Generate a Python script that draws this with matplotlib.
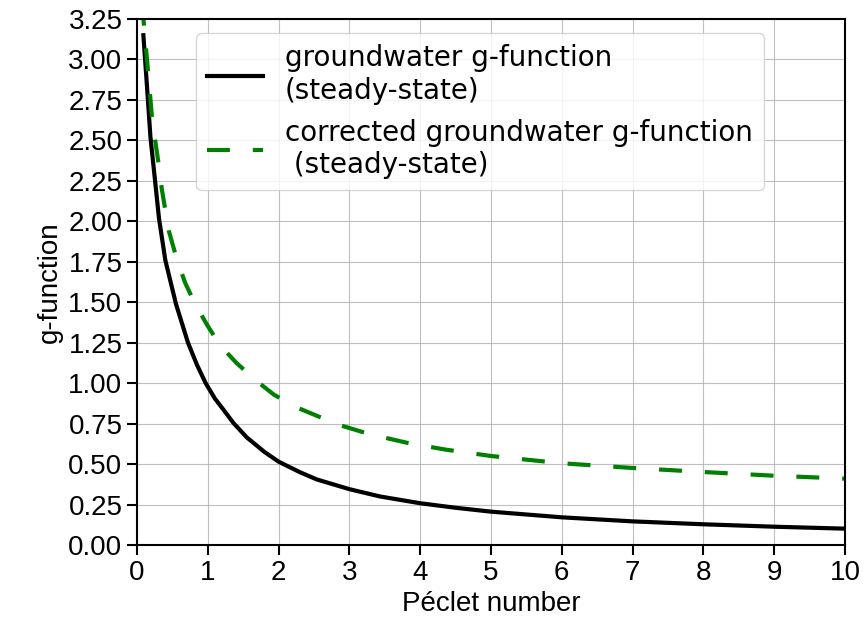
import matplotlib
matplotlib.use("Agg")
import matplotlib.pyplot as plt

# values
pe_steady = [0.09, 0.14, 0.19, 0.26, 0.31, 0.40, 0.55, 0.72, 0.85, 0.97, 1.1,
             1.24, 1.36, 1.55, 1.8, 2.0, 2.3, 2.54, 3.0, 3.43, 4.0, 4.5, 5.0,
             6.0, 7.0, 8.0, 9.0, 10.0]
g_steady = [3.15, 2.84, 2.52, 2.23, 2.02, 1.76, 1.49, 1.25, 1.11, 1.0, 0.905,
            0.825, 0.755, 0.665, 0.575, 0.515, 0.45, 0.405, 0.345, 0.30, 0.258,
            0.23, 0.206, 0.171, 0.146, 0.128, 0.113, 0.101]

pe_corrected = [0.07, 0.095, 0.165, 0.21, 0.26, 0.31, 0.35, 0.45, 0.56, 0.68,
                0.82, 0.99, 1.17, 1.40, 1.67, 1.93, 2.23, 2.53, 2.87, 3.17,
                3.53, 3.83, 4.35, 5.0, 6.0, 7.0, 8.0, 9.0, 10.0]
g_corrected = [3.35, 3.23, 2.88, 2.65, 2.49, 2.34, 2.2, 1.94, 1.77, 1.62,
               1.49, 1.36, 1.235, 1.127, 1.02, 0.93, 0.855, 0.80, 0.74, 0.70,
               0.66, 0.63, 0.59, 0.55, 0.505, 0.476, 0.451, 0.428, 0.41]

x_ticks = list(range(0, 11))
y_ticks = [0.0, 0.25, 0.5, 0.75, 1.0, 1.25, 1.5, 1.75, 2.0, 2.25, 2.5, 2.75, 3.0, 3.25]


def formatChart(ax):
    ax.grid(color="#b0b0b0", linestyle="-", linewidth=0.8, alpha=0.8)
    ax.set_axisbelow(True)
    ax.set_xlim(0, 10)
    ax.set_ylim(0, 3.25)
    ax.set_xticks(x_ticks)
    ax.set_yticks(y_ticks)
    ax.set_yticklabels(["{:.2f}".format(v) for v in y_ticks])
    ax.tick_params(labelsize=20, width=1.5, length=7)
    for lab in ax.get_xticklabels() + ax.get_yticklabels():
        lab.set_family("Liberation Sans")
    for sp in ax.spines.values():
        sp.set_linewidth(1.5)
    ax.set_xlabel("Péclet number", family="Liberation Sans", fontsize=20)
    ax.set_ylabel("g-function", family="Liberation Sans", fontsize=20)


def plotChart():
    fig = plt.figure(figsize=(8.66, 6.32), dpi=100)
    ax = fig.add_axes([137 / 866, 1 - 545 / 632, 708 / 866, 526 / 632])
    formatChart(ax)
    ax.plot(pe_steady, g_steady, color="black", linewidth=3,
            label="groundwater g-function\n(steady-state)")
    ax.plot(pe_corrected, g_corrected, color="green", linewidth=3, dashes=(5.5, 5.5),
            label="corrected groundwater g-function\n (steady-state)")
    ax.legend(loc="upper left", bbox_to_anchor=(0.0833, 0.973), fontsize=20,
              handlelength=2.0, borderaxespad=0)
    fig.savefig("out.png", dpi=100)
    plt.close(fig)


if __name__ == "__main__":
    plotChart()
